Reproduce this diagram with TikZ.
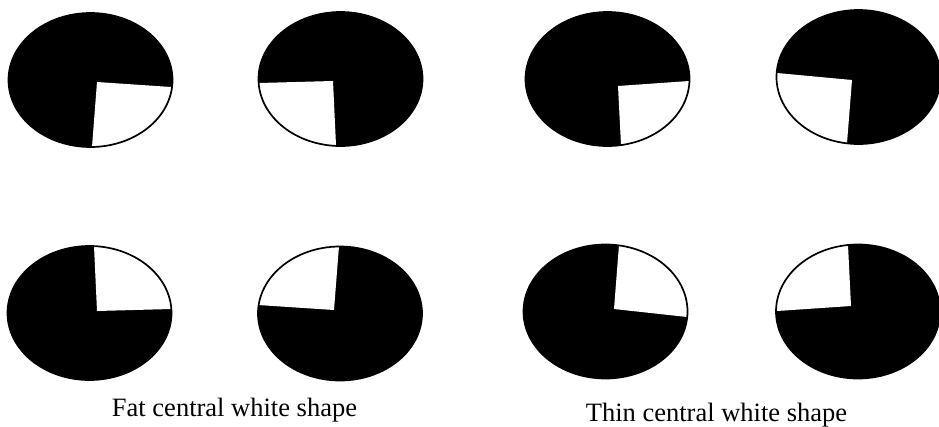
\documentclass[tikz,border=0pt]{standalone}
\usepackage{fontspec}
\setmainfont{Liberation Serif}
\usetikzlibrary{calc}
\tikzset{
  blob/.style={x radius=82pt, y radius=67pt},
  rim/.style={draw=black, line width=1.7pt},
  caption/.style={anchor=base, inner sep=0pt, font=\fontsize{26.5}{30}\selectfont}
}
\newcommand\pacmanshape[5]{%
  \coordinate (#1c) at #2;
  \coordinate (#1k) at #3;
  \coordinate (#1a) at #4;
  \coordinate (#1b) at #5;
  \fill[black] (#1c) ellipse [blob];
  \begin{scope}
    \clip (#1c) ellipse [blob];
    \fill[white] (#1k) -- ($(#1k)!3!(#1a)$) -- ($3*(#1a)+3*(#1b)-5*(#1k)$) -- ($(#1k)!3!(#1b)$) -- cycle;
  \end{scope}
  \draw[rim] (#1c) ellipse [blob];
}
\begin{document}
\begin{tikzpicture}[x=1pt, y=-1pt]
  \useasboundingbox (0,0) rectangle (939,426);
  % top row
  \pacmanshape{p1}{(90.5,80)}{(97,82)}{(171,87)}{(92,147)}
  \pacmanshape{p2}{(340.5,79)}{(333,81)}{(259,83)}{(336,145)}
  \pacmanshape{p3}{(607.5,79)}{(618,86)}{(689,81)}{(621,145)}
  \pacmanshape{p4}{(858.5,77)}{(852,80)}{(777,73)}{(847,143)}
  % bottom row
  \pacmanshape{p5}{(89.5,313)}{(97,311)}{(94,246)}{(171,309)}
  \pacmanshape{p6}{(340,313.5)}{(334,310)}{(339,246)}{(258,305)}
  \pacmanshape{p7}{(605.5,311.5)}{(614,309)}{(619,245)}{(687,317)}
  \pacmanshape{p8}{(858,311.5)}{(851,306)}{(848,245)}{(777,311)}
  % captions
  \node[caption] (fat) at (234.5,416) {Fat central white shape};
  \node[caption] (thin) at (716.5,421.5) {Thin central white shape};
\end{tikzpicture}
\end{document}
